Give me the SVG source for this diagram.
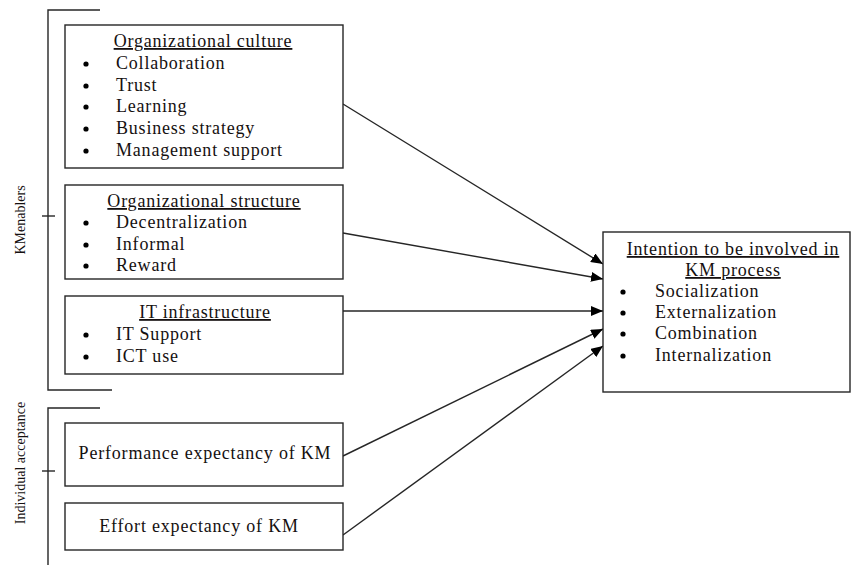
<svg xmlns="http://www.w3.org/2000/svg" width="852" height="565" viewBox="0 0 852 565">
  <style>
    .box { fill: #ffffff; stroke: #262626; stroke-width: 1.4; }
    .brk { fill: none; stroke: #262626; stroke-width: 1.4; }
    .txt { font-family: "Liberation Serif", "Times New Roman", serif; font-size: 18px; letter-spacing: 0.8px; fill: #151010; }
    .ttl { text-decoration: underline; text-anchor: middle; }
    .mid { text-anchor: middle; }
    .side { font-family: "Liberation Serif", "Times New Roman", serif; font-size: 14px; fill: #151010; text-anchor: middle; }
    .dot { fill: #000000; }
    .arrow { fill: none; stroke: #262626; stroke-width: 1.4; marker-end: url(#head); }
  </style>
  <defs>
    <marker id="head" viewBox="0 0 12 10" refX="12" refY="5" markerWidth="12" markerHeight="10" markerUnits="userSpaceOnUse" orient="auto">
      <path d="M0,0 L12,5 L0,10 Z" fill="#000000"/>
    </marker>
  </defs>
  <rect width="852" height="565" fill="#ffffff"/>

  <!-- group brackets -->
  <g id="km-enablers">
    <path class="brk" d="M100,10 H48 V390 H112"/>
    <path class="brk" d="M42,216 H55"/>
    <text class="side" transform="translate(25,220) rotate(-90)">KMenablers</text>
  </g>
  <g id="individual-acceptance">
    <path class="brk" d="M100,408 H48 V565"/>
    <path class="brk" d="M42,471 H55"/>
    <text class="side" transform="translate(25,463) rotate(-90)">Individual acceptance</text>
  </g>

  <!-- connectors -->
  <g id="connectors">
    <path class="arrow" d="M343,104 L603,264"/>
    <path class="arrow" d="M343,233 L603,279"/>
    <path class="arrow" d="M343,311 L603,311"/>
    <path class="arrow" d="M343,456 L603,329"/>
    <path class="arrow" d="M343,535 L603,346"/>
  </g>

  <!-- nodes -->
  <g id="org-culture">
    <rect class="box" x="65" y="25" width="278" height="143"/>
    <text class="txt ttl" x="203" y="47">Organizational culture</text>
    <circle class="dot" cx="86" cy="64" r="2.6"/>
    <circle class="dot" cx="86" cy="86" r="2.6"/>
    <circle class="dot" cx="86" cy="107" r="2.6"/>
    <circle class="dot" cx="86" cy="129" r="2.6"/>
    <circle class="dot" cx="86" cy="151" r="2.6"/>
    <text class="txt" x="116" y="69">Collaboration</text>
    <text class="txt" x="116" y="91">Trust</text>
    <text class="txt" x="116" y="112">Learning</text>
    <text class="txt" x="116" y="134">Business strategy</text>
    <text class="txt" x="116" y="156">Management support</text>
  </g>

  <g id="org-structure">
    <rect class="box" x="65" y="185" width="278" height="94"/>
    <text class="txt ttl" x="204" y="207">Organizational structure</text>
    <circle class="dot" cx="86" cy="223" r="2.6"/>
    <circle class="dot" cx="86" cy="245" r="2.6"/>
    <circle class="dot" cx="86" cy="266" r="2.6"/>
    <text class="txt" x="116" y="228">Decentralization</text>
    <text class="txt" x="116" y="250">Informal</text>
    <text class="txt" x="116" y="271">Reward</text>
  </g>

  <g id="it-infrastructure">
    <rect class="box" x="65" y="296" width="278" height="78"/>
    <text class="txt ttl" x="205" y="318">IT infrastructure</text>
    <circle class="dot" cx="86" cy="335" r="2.6"/>
    <circle class="dot" cx="86" cy="357" r="2.6"/>
    <text class="txt" x="116" y="340">IT Support</text>
    <text class="txt" x="116" y="362">ICT use</text>
  </g>

  <g id="performance-expectancy">
    <rect class="box" x="65" y="423" width="278" height="63"/>
    <text class="txt mid" x="205" y="459">Performance expectancy of KM</text>
  </g>

  <g id="effort-expectancy">
    <rect class="box" x="65" y="503" width="278" height="47"/>
    <text class="txt mid" x="199" y="532">Effort expectancy of KM</text>
  </g>

  <g id="intention">
    <rect class="box" x="603" y="232" width="247" height="160"/>
    <text class="txt ttl" x="733" y="255">Intention to be involved in</text>
    <text class="txt ttl" x="733" y="276">KM process</text>
    <circle class="dot" cx="623" cy="292" r="2.6"/>
    <circle class="dot" cx="623" cy="313" r="2.6"/>
    <circle class="dot" cx="623" cy="334" r="2.6"/>
    <circle class="dot" cx="623" cy="356" r="2.6"/>
    <text class="txt" x="655" y="297">Socialization</text>
    <text class="txt" x="655" y="318">Externalization</text>
    <text class="txt" x="655" y="339">Combination</text>
    <text class="txt" x="655" y="361">Internalization</text>
  </g>
</svg>
